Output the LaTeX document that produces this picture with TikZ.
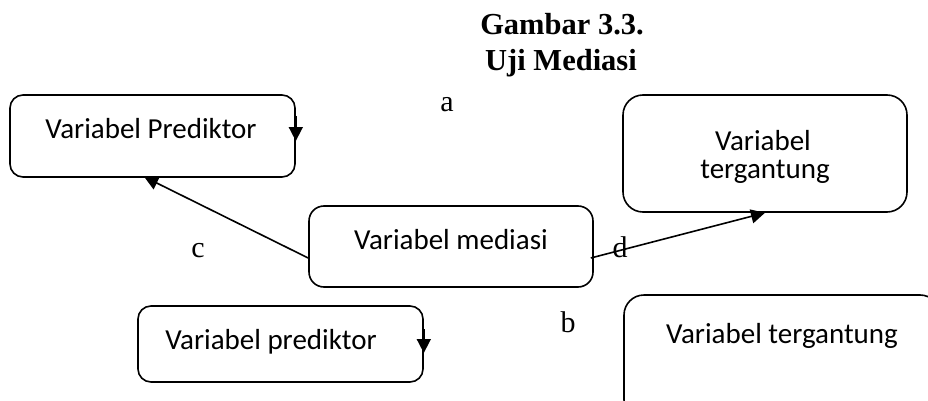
\documentclass[tikz,border=0pt]{standalone}
\usepackage{fontspec}
\setmainfont{Liberation Serif}
\newfontfamily\carlito{Carlito}
\usetikzlibrary{arrows.meta,calc}
\tikzset{
  box/.style={draw,line width=1.6pt,rounded corners=#1,inner sep=0pt},
  box/.default=13pt,
  boxtext/.style={font=\carlito\fontsize{29}{34}\selectfont,anchor=base,inner sep=0pt},
  lab/.style={font=\fontsize{30}{34}\selectfont,anchor=base,inner sep=0pt},
  ttl/.style={font=\bfseries\fontsize{30.5}{34}\selectfont,anchor=base,inner sep=0pt},
  arr/.style={line width=1.6pt,-{Triangle[length=14pt,width=14pt]}},
}
\begin{document}
\begin{tikzpicture}[x=1pt,y=-1pt]
\useasboundingbox (0,0) rectangle (928,401);
% title
\node[ttl] (t1) at (562,35) {Gambar 3.3.};
\node[ttl] (t2) at (561,71) {Uji Mediasi};
% boxes
\node[box,minimum width=285pt,minimum height=82pt] (b1) at (152.5,136) {};
\node[box=20pt,minimum width=284pt,minimum height=117pt] (b2) at (765,153.5) {};
\node[box=15pt,minimum width=284pt,minimum height=81pt] (bm) at (451,246.5) {};
\node[box,minimum width=285pt,minimum height=76pt] (b4) at (280.5,344) {};
\node[box=20pt,minimum width=316pt,minimum height=125pt] (b5) at (782,357.5) {};
% box texts
\node[boxtext] (tx1) at (151,138) {Variabel Prediktor};
\node[boxtext] (tx2a) at (763,150) {Variabel};
\node[boxtext] (tx2b) at (765,178) {tergantung};
\node[boxtext] (txm) at (451,249) {Variabel mediasi};
\node[boxtext] (tx4) at (271,349) {Variabel prediktor};
\node[boxtext] (tx5) at (782,343) {Variabel tergantung};
% labels
\node[lab] (la) at (447,111) {a};
\node[lab] (lb) at (568,332) {b};
\node[lab] (lc) at (198,257) {c};
% connectors
\coordinate (mL) at ($(bm.west)+(0,11.5)$);
\coordinate (mR) at ($(bm.east)+(-3,11.5)$);
\coordinate (b1end) at ($(b1.south west)+(135,-1)$);
\draw[arr] (mL) -- (b1end);
\draw[arr] (mR) -- (b2.south);
\node[lab] (ld) at (620,257) {d};
% small arrowheads on right edges
\draw[arr] ($(b1.east)+(0,-20)$) -- ($(b1.east)+(0,5)$);
\draw[arr] ($(b4.east)+(0,-15)$) -- ($(b4.east)+(0,9)$);
\end{tikzpicture}
\end{document}
